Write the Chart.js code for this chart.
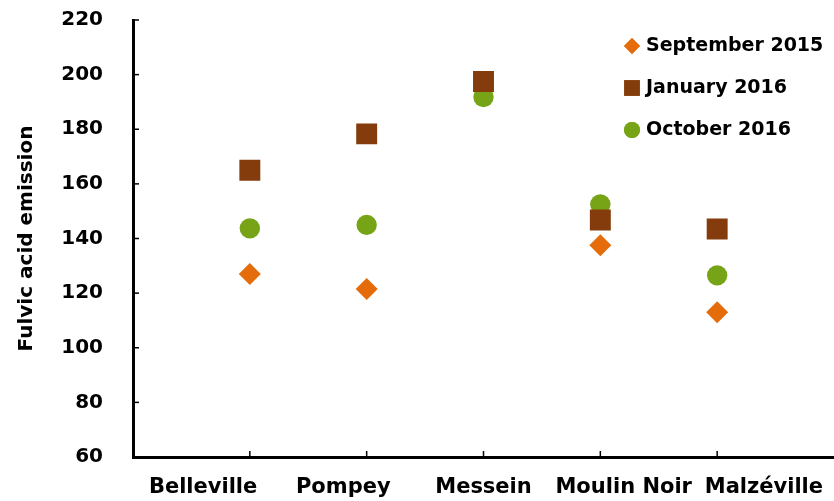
<!DOCTYPE html>
<html>
<head>
<meta charset="utf-8">
<script src="https://cdn.jsdelivr.net/npm/chart.js@4"></script>
<style>
  html, body { margin: 0; padding: 0; background: #fff; }
  #wrap { width: 834px; height: 501px; }
</style>
</head>
<body>
<div id="wrap"><canvas id="fulvicChart" width="834" height="501"></canvas></div>
<script>
const sites = ["Belleville", "Pompey", "Messein", "Moulin Noir", "Malzéville"];
const sep2015 = [127, 121.5, null, 137.5, 113];
const jan2016 = [165, 178.3, 197.5, 146.8, 143.5];
const oct2016 = [143.7, 145, 191.8, 152.5, 126.5];
const yTicks = [60, 80, 100, 120, 140, 160, 180, 200, 220];
const seriesNames = ["September 2015", "January 2016", "October 2016"];
// no Messein point visible for sept 2015

const FONT = "'DejaVu Sans'";

// pad with empty slots so the markers sit like Excel's "on tick marks"
const xSlots = [""].concat(sites, [""]);
const pad = (arr) => [null].concat(arr, [null]);

// inward tick marks + legend drawn inside the plot
const extras = {
  id: "extras",
  afterDraw(chart) {
    const c = chart.ctx;
    const xs = chart.scales.x, ys = chart.scales.y;
    const area = chart.chartArea;
    c.save();
    c.strokeStyle = "#000";
    c.lineWidth = 1.5;
    yTicks.forEach((v) => {
      const py = ys.getPixelForValue(v);
      c.beginPath();
      c.moveTo(area.left, py);
      c.lineTo(area.left + 6, py);
      c.stroke();
    });
    sites.forEach((s, i) => {
      const px = xs.getPixelForValue(i + 1);
      c.beginPath();
      c.moveTo(px, area.bottom);
      c.lineTo(px, area.bottom - 6);
      c.stroke();
    });

    // legend
    const ds = chart.data.datasets;
    const sizes = [8, 11, 8];
    c.font = "bold 19px " + FONT;
    c.textBaseline = "middle";
    ds.forEach((d, i) => {
      const y = 46 + i * 42;
      c.fillStyle = d.backgroundColor;
      Chart.helpers.drawPoint(c, {
        pointStyle: d.pointStyle,
        radius: sizes[i],
        borderWidth: 0,
        rotation: 0,
      }, 632, y);
      c.fill();
      c.fillStyle = "#000";
      c.fillText(d.label, 646, y);
    });
    c.restore();
  },
};

const mk = (label, data, style, r, col) => ({
  label: label,
  data: pad(data),
  xAxisID: "x",
  pointStyle: style,
  pointRadius: r,
  backgroundColor: col,
  borderColor: col,
  pointBorderWidth: 0,
});

new Chart(document.getElementById("fulvicChart"), {
  type: "line",
  data: {
    labels: xSlots,
    datasets: [
      mk(seriesNames[0], sep2015, "rectRot", 11, "#E46C0A"),
      mk(seriesNames[1], jan2016, "rect", 14.8, "#843C0C"),
      mk(seriesNames[2], oct2016, "circle", 10.2, "#77A417"),
    ],
  },
  plugins: [extras],
  options: {
    responsive: false,
    animation: false,
    showLine: false,
    layout: {
      autoPadding: false,
      padding: { top: 20, right: 0, bottom: 0, left: 15 },
    },
    plugins: {
      legend: { display: false },
      tooltip: { enabled: false },
    },
    scales: {
      x: {
        type: "category",
        offset: false,
        grid: { display: false },
        border: { display: true, color: "#000", width: 3 },
        ticks: { display: false },
        afterFit: (s) => { s.height = 0; s.paddingRight = 0; s.paddingLeft = 0; },
      },
      // label row: names spread over the full width like the original
      names: {
        type: "category",
        position: "bottom",
        labels: sites,
        offset: true,
        grid: { display: false },
        border: { display: false },
        ticks: {
          color: "#000",
          font: { family: FONT, size: 21, weight: "bold" },
          padding: 10,
          maxRotation: 0,
          autoSkip: false,
        },
        afterFit: (s) => { s.height = 44; s.paddingRight = 0; s.paddingLeft = 0; },
      },
      y: {
        min: 60,
        max: 220,
        grid: { display: false },
        border: { display: true, color: "#000", width: 3 },
        ticks: {
          stepSize: 20,
          color: "#000",
          padding: 22,
          font: { family: FONT, size: 20, weight: "bold" },
        },
        title: {
          display: true,
          text: "Fulvic acid emission",
          color: "#000",
          font: { family: FONT, size: 20, weight: "bold" },
          padding: 0,
        },
        afterFit: (s) => { s.width = 118; s.paddingTop = 0; s.paddingBottom = 0; },
      },
    },
  },
});
</script>
</body>
</html>
